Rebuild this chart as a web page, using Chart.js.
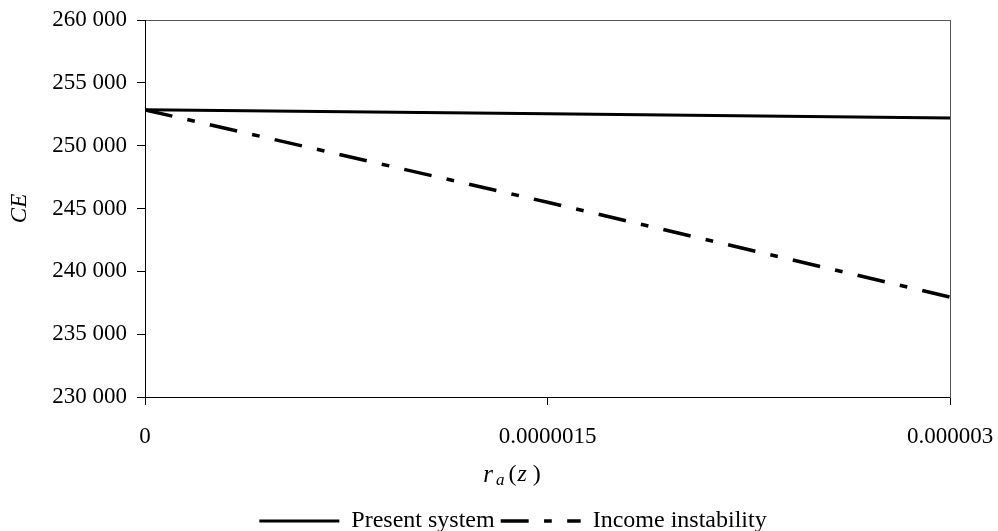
<!DOCTYPE html>
<html>
<head>
<meta charset="utf-8">
<script src="https://cdn.jsdelivr.net/npm/chart.js@4.4.0/dist/chart.umd.min.js"></script>
<style>
  html, body { margin: 0; padding: 0; background: #fff; }
  #wrap { width: 998px; height: 531px; }
</style>
</head>
<body>
<div id="wrap"><canvas id="myChart"></canvas></div>
<script>
// r_a(z) values
const xValues = [0, 0.0000015, 0.000003];
const xTickLabels = ['0', '0.0000015', '0.000003'];

// CE values
const presentSystem = [252850, 252530, 252200];
const incomeInstability = [252850, 245500, 237950];

const yMin = 230000;
const yMax = 260000;
const yStep = 5000;

const serif = '"Liberation Serif", "Times New Roman", serif';

function points(ys) {
  return xValues.map(function (x, i) { return { x: x, y: ys[i] }; });
}

function spaced(v) {
  return String(v).replace(/\B(?=(\d{3})+(?!\d))/g, ' ');
}

// x axis title with a subscript
const xTitle = {
  id: 'xTitle',
  afterDraw(chart) {
    const ctx = chart.ctx;
    const y = 475;
    const parts = [
      { t: 'r', f: 'italic 25px ', dy: 0, gap: 3 },
      { t: 'a', f: 'italic 17px ', dy: 6, gap: 4 },
      { t: '(', f: '24px ', dy: 0, gap: 1 },
      { t: 'z', f: 'italic 24px ', dy: 0, gap: 6 },
      { t: ')', f: '24px ', dy: 0, gap: 0 }
    ];
    ctx.save();
    ctx.fillStyle = '#000';
    ctx.textBaseline = 'middle';
    let total = 0;
    parts.forEach(function (p) {
      ctx.font = p.f + serif;
      p.w = ctx.measureText(p.t).width;
      total += p.w + p.gap;
    });
    let x = 512 - total / 2;
    parts.forEach(function (p) {
      ctx.font = p.f + serif;
      ctx.fillText(p.t, x, y + p.dy);
      x += p.w + p.gap;
    });
    ctx.restore();
  }
};

const data = {
  datasets: [{
    label: 'Present system',
    data: points(presentSystem),
    borderColor: '#000',
    backgroundColor: '#000',
    borderWidth: 3,
    pointRadius: 0,
    tension: 0
  }, {
    label: 'Income instability',
    data: points(incomeInstability),
    borderColor: '#000',
    backgroundColor: '#000',
    borderWidth: 3.5,
    borderDash: [28, 15.4, 7.7, 15.4],
    pointRadius: 0,
    tension: 0
  }]
};

const config = {
  type: 'line',
  data: data,
  options: {
    responsive: true,
    maintainAspectRatio: false,
    animation: false,
    layout: { padding: { left: 28, right: 0, top: 0, bottom: -12 } },
    plugins: {
      tooltip: { enabled: false },
      legend: {
        position: 'bottom',
        labels: {
          color: '#000',
          font: { family: serif, size: 24, lineHeight: 1 },
          usePointStyle: true,
          pointStyle: 'line',
          pointStyleWidth: 80,
          boxHeight: 24,
          padding: 6,
          generateLabels(chart) {
            const items = Chart.defaults.plugins.legend.labels.generateLabels(chart);
            items.forEach(function (item) {
              const ds = chart.data.datasets[item.datasetIndex];
              item.lineDash = ds.borderDash || [];
              item.lineWidth = ds.borderWidth;
              item.strokeStyle = ds.borderColor;
            });
            return items;
          }
        }
      }
    },
    scales: {
      x: {
        type: 'linear',
        position: 'bottom',
        min: xValues[0],
        max: xValues[xValues.length - 1],
        afterBuildTicks(scale) {
          scale.ticks = xValues.map(function (v) { return { value: v }; });
        },
        afterFit(scale) {
          scale.paddingLeft = 0;
          scale.paddingRight = 0;
          scale.height = scale.chart.legend.top > 0
            ? scale.chart.legend.top - 397
            : scale.chart.height + 12 - scale.chart.legend.height - 397;
        },
        ticks: {
          color: '#000',
          font: { family: serif, size: 23 },
          padding: 18,
          maxRotation: 0,
          callback: function (v, i) { return xTickLabels[i]; }
        },
        grid: { drawOnChartArea: false, color: '#000', tickLength: 8 },
        border: { color: '#000', width: 1 }
      },
      xTop: {
        type: 'linear',
        position: 'top',
        ticks: { display: false },
        grid: { display: false },
        border: { color: '#555', width: 1 },
        afterFit(scale) { scale.height = 20; }
      },
      y: {
        min: yMin,
        max: yMax,
        afterFit(scale) {
          scale.paddingTop = 0;
          scale.paddingBottom = 0;
          scale.width = 117;
        },
        ticks: {
          stepSize: yStep,
          color: '#000',
          font: { family: serif, size: 23 },
          padding: 10,
          callback: function (v) { return spaced(v); }
        },
        grid: { drawOnChartArea: false, color: '#000', tickLength: 8 },
        border: { color: '#000', width: 1 },
        title: {
          display: true,
          text: 'CE',
          color: '#000',
          font: { family: serif, size: 23, style: 'italic' },
          padding: { top: -22, bottom: 0 }
        }
      },
      yRight: {
        position: 'right',
        ticks: { display: false },
        grid: { display: false },
        border: { color: '#555', width: 1 },
        afterFit(scale) { scale.width = 48; }
      }
    }
  },
  plugins: [xTitle]
};

const myChart = new Chart(document.getElementById('myChart'), config);
</script>
</body>
</html>
